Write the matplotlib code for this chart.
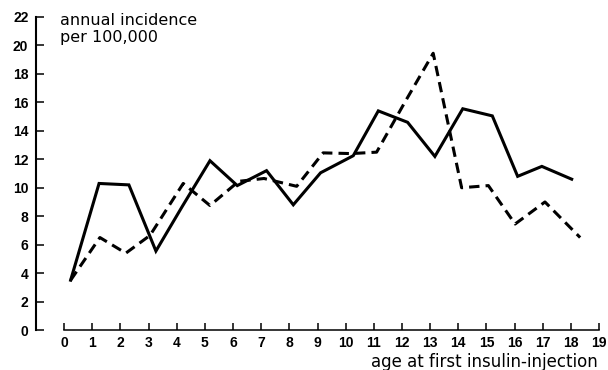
import matplotlib
matplotlib.use("Agg")
import matplotlib.pyplot as plt

# data (age, annual incidence per 100,000)
solid_age = [0.23, 1.24, 2.30, 3.26, 4.2, 5.18, 6.15, 7.19, 8.14, 9.11,
             10.27, 11.16, 12.2, 13.17, 14.16, 15.21, 16.11, 16.97, 18.03]
solid_inc = [3.5, 10.3, 10.2, 5.55, 8.7, 11.9, 10.15, 11.2, 8.8, 11.05,
             12.25, 15.4, 14.6, 12.2, 15.55, 15.05, 10.8, 11.5, 10.6]

dashed_age = [0.23, 1.27, 2.19, 3.05, 4.23, 5.18, 6.2, 7.1, 8.26, 9.2,
              10.2, 11.1, 12.1, 13.11, 14.12, 15.07, 16.02, 17.08, 18.33]
dashed_inc = [3.5, 6.5, 5.4, 6.65, 10.3, 8.75, 10.45, 10.65, 10.1, 12.45,
              12.4, 12.5, 16.0, 19.45, 10.0, 10.15, 7.45, 9.0, 6.5]

xticks = list(range(0, 20))
yticks = list(range(0, 23, 2))

fig = plt.figure(figsize=(6.08, 3.70), dpi=100)
ax = fig.add_axes([36 / 608, 1 - 330 / 370, (599 - 36) / 608, (330 - 17) / 370])

ax.plot(solid_age, solid_inc, color="black", lw=2.2, solid_joinstyle="miter")
ax.plot(dashed_age, dashed_inc, color="black", lw=2.2, dashes=(3.4, 2.0))

ax.set_xlim(-1, 19)
ax.set_ylim(0, 22)

for s in ["top", "right"]:
    ax.spines[s].set_visible(False)
ax.spines["left"].set_bounds(0, 22)
ax.spines["bottom"].set_bounds(0, 19)
ax.spines["left"].set_linewidth(1.5)
ax.spines["bottom"].set_linewidth(1.1)

tick_font = dict(fontsize=10, fontweight="bold", fontfamily="Liberation Sans")
ax.set_xticks(xticks, labels=[str(t) for t in xticks], **tick_font)
ax.set_yticks(yticks, labels=[str(t) for t in yticks], **tick_font)
ax.tick_params(axis="both", direction="in", width=1.1, colors="black")
ax.tick_params(axis="x", pad=4.5, length=5)
ax.tick_params(axis="y", pad=5.5, length=6)

ax.text(-0.15, 22.3, "annual incidence\nper 100,000", ha="left", va="top",
        fontsize=11.5, linespacing=1.2, clip_on=False)
ax.text(18.95, -2.25, "age at first insulin-injection", ha="right", va="center",
        fontsize=12, clip_on=False)

fig.savefig("out.png", dpi=100)
